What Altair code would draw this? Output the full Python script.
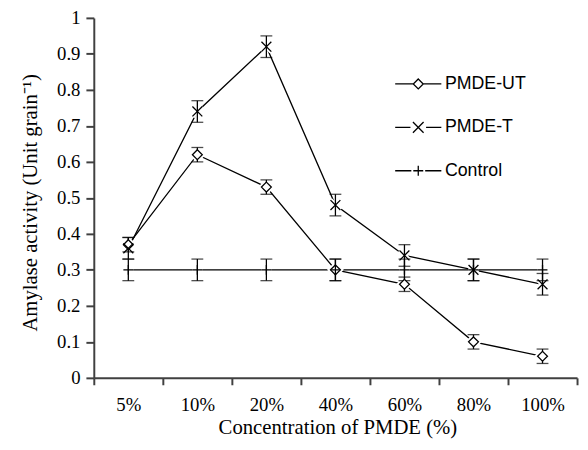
import altair as alt
import pandas as pd

categories = ["5%", "10%", "20%", "40%", "60%", "80%", "100%"]
series_names = ["PMDE-UT", "PMDE-T", "Control"]
ut_values = [0.37, 0.62, 0.53, 0.30, 0.26, 0.10, 0.06]
ut_errors = [0.02, 0.02, 0.02, 0.03, 0.02, 0.02, 0.02]
t_values = [0.36, 0.74, 0.92, 0.48, 0.34, 0.30, 0.26]
t_errors = [0.03, 0.03, 0.03, 0.03, 0.03, 0.03, 0.03]
ctrl_values = [0.30, 0.30, 0.30, 0.30, 0.30, 0.30, 0.30]
ctrl_errors = [0.03, 0.03, 0.03, 0.03, 0.03, 0.03, 0.03]
y_ticks = [0, 0.1, 0.2, 0.3, 0.4, 0.5, 0.6, 0.7, 0.8, 0.9, 1]

rows = []
for name, vals, errs in [("PMDE-UT", ut_values, ut_errors),
                         ("PMDE-T", t_values, t_errors),
                         ("Control", ctrl_values, ctrl_errors)]:
    for i, (c, v, e) in enumerate(zip(categories, vals, errs)):
        rows.append({"cat": c, "idx": i, "series": name, "value": v,
                     "lo": v - e, "hi": v + e})
df = pd.DataFrame(rows)

marker_paths = ["M0,-1L1,0L0,1L-1,0Z",
                "M-1,-1L1,1M-1,1L1,-1",
                "M-1,0L1,0M0,-1L0,1"]
legend_paths = ["M-1.3,0L-0.28,0M0.28,0L1.3,0M0,-0.28L0.28,0L0,0.28L-0.28,0Z",
                "M-1.3,0L-0.44,0M0.44,0L1.3,0M-0.3,-0.3L0.3,0.3M-0.3,0.3L0.3,-0.3",
                "M-1.3,0L-0.39,0M0.39,0L1.3,0M-0.28,0L0.28,0M0,-0.28L0,0.28"]

serif = "Liberation Serif"
sans = "Liberation Sans"

x_scale = alt.Scale(domain=categories, paddingInner=0, paddingOuter=0)
x_axis = alt.Axis(title="Concentration of PMDE (%)", labelAngle=0,
                  tickBand="extent", tickSize=7, labelPadding=11,
                  titleX=247, titleY=39, titleFontSize=21, labelFontSize=19)
y_scale = alt.Scale(domain=[0, 1], nice=False, zero=True)
y_axis = alt.Axis(title="Amylase activity (Unit grain\u207b\u00b9)",
                  values=y_ticks, format="~g", tickSize=8, labelOverlap=False,
                  labelPadding=6, titleX=-54, titleY=187, titleFontSize=21,
                  labelFontSize=19)


def X():
    return alt.X("cat:N", sort=categories, scale=x_scale, axis=x_axis)


def Y(field):
    return alt.Y(field, scale=y_scale, axis=y_axis)


base = alt.Chart(df)

lines = base.mark_line(color="black", strokeWidth=1.3).encode(
    x=X(), y=Y("value:Q"), detail="series:N", order="idx:Q")

shape_marker = alt.Shape("series:N",
                         scale=alt.Scale(domain=series_names, range=marker_paths),
                         legend=None)

halo = base.mark_point(filled=False, stroke="white", strokeWidth=5,
                       size=100, opacity=1).encode(
    x=X(), y=Y("value:Q"), shape=shape_marker)

err_rules = base.mark_rule(color="black", strokeWidth=1.3).encode(
    x=X(), y=Y("lo:Q"), y2="hi:Q")
caps_hi = base.mark_tick(color="black", thickness=1.3, size=12).encode(
    x=X(), y=Y("hi:Q"))
caps_lo = base.mark_tick(color="black", thickness=1.3, size=12).encode(
    x=X(), y=Y("lo:Q"))

points = base.mark_point(filled=False, color="black", fill="white",
                         strokeWidth=1.3, size=100, opacity=1).encode(
    x=X(), y=Y("value:Q"), shape=shape_marker)

legend_layer = base.mark_point(filled=False, color="black", opacity=0,
                               size=1296).encode(
    x=X(), y=Y("value:Q"),
    shape=alt.Shape("series:N",
                    scale=alt.Scale(domain=series_names, range=legend_paths),
                    legend=alt.Legend(title=None, orient="none", legendX=310,
                                      legendY=48, symbolSize=1296,
                                      symbolStrokeWidth=1.3,
                                      symbolStrokeColor="black",
                                      symbolFillColor="white",
                                      symbolOpacity=1,
                                      labelFont=sans, labelFontSize=18,
                                      labelColor="black", labelOffset=8,
                                      rowPadding=16, padding=0)))

chart = alt.layer(lines, halo, err_rules, caps_hi, caps_lo, points,
                  legend_layer).resolve_scale(shape="independent").properties(
    width=490, height=365,
    autosize=alt.AutoSizeParams(type="none"),
    padding={"left": 87, "top": 7, "right": 3, "bottom": 62},
    background="white",
).configure_view(stroke=None).configure_axis(
    grid=False, domainColor="#404040", domainWidth=2, tickColor="#404040",
    tickWidth=2, labelFont=serif, labelColor="black",
    titleFont=serif, titleFontWeight="normal", titleColor="black")

chart.save("out.html", embed_options={"renderer": "svg", "actions": False})
